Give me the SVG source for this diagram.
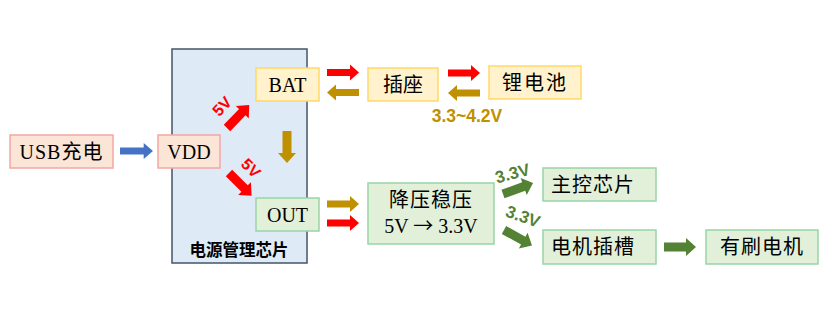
<svg xmlns="http://www.w3.org/2000/svg" xmlns:xlink="http://www.w3.org/1999/xlink" width="827" height="320" viewBox="0 0 827 320">
<style>
.t{font-family:"Liberation Serif","Noto Sans CJK SC",serif;font-size:20px;fill:#000;text-anchor:middle}
.pink{fill:#fbe5d6;stroke:#f4a6a6;stroke-width:1.5}
.yel{fill:#fff2cc;stroke:#ffd966;stroke-width:1.5}
.grn{fill:#e2f0d9;stroke:#98d5a5;stroke-width:1.5}
.lbl{font-family:"Liberation Sans","Noto Sans CJK SC",sans-serif;font-weight:bold;text-anchor:middle}
.red{fill:#ff0000}.gold{fill:#bf9000}.blue{fill:#4472c4}.green{fill:#548235}
</style>
<defs>
<path id="arr" d="M0,-3.5 H23 V-8 L32,0 L23,8 V3.5 H0 Z"/>
<path id="arrw" d="M0,-4.5 H22 V-9 L32,0 L22,9 V4.5 H0 Z"/>
</defs>
<g id="chip">
<rect x="172" y="49" width="135" height="214" fill="#deebf7" stroke="#44546a" stroke-width="1.5"/>
<text class="lbl" x="239" y="256" font-size="16.5" fill="#000">电源管理芯片</text>
</g>
<g id="usb"><rect class="pink" x="10" y="135" width="103" height="33"/><text class="t" x="61.5" y="158.5" letter-spacing="1">USB充电</text></g>
<g id="vdd"><rect class="pink" x="158" y="135" width="62" height="33"/><text class="t" x="189" y="158.5">VDD</text></g>
<g id="bat"><rect class="yel" x="256" y="68" width="63" height="33"/><text class="t" x="287.5" y="91.5">BAT</text></g>
<g id="out"><rect class="grn" x="256" y="198" width="63" height="33"/><text class="t" x="287.5" y="221.5">OUT</text></g>
<g id="socket"><rect class="yel" x="368" y="68" width="70" height="33"/><text class="t" x="403" y="91.5">插座</text></g>
<g id="battery"><rect class="yel" x="489" y="66" width="92" height="33"/><text class="t" x="535" y="89.5" letter-spacing="2">锂电池</text></g>
<g id="buck"><rect class="grn" x="368" y="183" width="126" height="61"/><text class="t" x="431" y="207" letter-spacing="1">降压稳压</text><text class="t" x="431" y="233">5V <tspan font-family="Noto Sans CJK SC, sans-serif">→</tspan> 3.3V</text></g>
<g id="mcu"><rect class="grn" x="543" y="168" width="113" height="33"/><text class="t" x="593" y="191.5" letter-spacing="1">主控芯片</text></g>
<g id="motorslot"><rect class="grn" x="543" y="230" width="113" height="34"/><text class="t" x="593" y="254" letter-spacing="1">电机插槽</text></g>
<g id="motor"><rect class="grn" x="706" y="230" width="112" height="34"/><text class="t" x="762" y="254" letter-spacing="1">有刷电机</text></g>
<g id="connectors">
<use xlink:href="#arr" class="blue" transform="translate(120,151) scale(1.03,1)"/>
<use xlink:href="#arrw" class="red" transform="translate(227,128) rotate(-46)"/>
<use xlink:href="#arrw" class="red" transform="translate(229,173) rotate(45)"/>
<use xlink:href="#arrw" class="gold" transform="translate(287,131) rotate(90)"/>
<use xlink:href="#arr" class="red" transform="translate(327,72.5)"/>
<use xlink:href="#arr" class="gold" transform="translate(359,92.5) rotate(180)"/>
<use xlink:href="#arr" class="red" transform="translate(448,73)"/>
<use xlink:href="#arr" class="gold" transform="translate(480,93) rotate(180)"/>
<use xlink:href="#arr" class="gold" transform="translate(327,204)"/>
<use xlink:href="#arr" class="red" transform="translate(327,223)"/>
<use xlink:href="#arrw" class="green" transform="translate(503,194) rotate(-20)"/>
<use xlink:href="#arrw" class="green" transform="translate(504,230) rotate(29)"/>
<use xlink:href="#arrw" class="green" transform="translate(664,247)"/>
<text class="lbl red" font-size="16" transform="translate(226,110) rotate(-47)">5V</text>
<text class="lbl red" font-size="16" transform="translate(247,172) rotate(45)">5V</text>
<text class="lbl gold" font-size="17.5" x="467" y="122">3.3~4.2V</text>
<text class="lbl green" font-size="17" transform="translate(514,179) rotate(-15)">3.3V</text>
<text class="lbl green" font-size="17" transform="translate(521,222) rotate(20)">3.3V</text>
</g>
</svg>
